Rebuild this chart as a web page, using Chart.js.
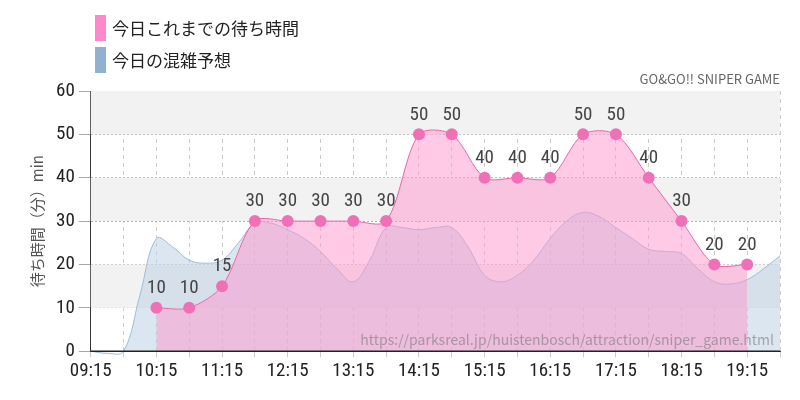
<!DOCTYPE html>
<html><head><meta charset="utf-8">
<script src="https://cdn.jsdelivr.net/npm/chart.js@4"></script>
<style>html,body{margin:0;background:#fff}#w{width:800px;height:400px}</style>
</head><body><div id="w"><canvas id="c"></canvas></div>
<script>
const pinkTimes=["10:15","10:45","11:15","11:45","12:15","12:45","13:15","13:45","14:15","14:45","15:15","15:45","16:15","16:45","17:15","17:45","18:15","18:45","19:15"];
const pinkValues=[10,10,15,30,30,30,30,30,50,50,40,40,40,50,50,40,30,20,20];
const blueTimes=["09:15","09:30","09:45","10:00","10:15","10:30","10:45","11:00","11:15","11:30","11:45","12:00","12:15","12:30","12:45","13:00","13:15","13:30","13:45","14:00","14:15","14:30","14:45","15:00","15:15","15:30","15:45","16:00","16:15","16:30","16:45","17:00","17:15","17:30","17:45","18:00","18:15","18:30","18:45","19:00","19:15","19:30","19:45"];
const blueValues=[0,-0.5,0,13,26,24,21,20.3,21,25,29.5,29.5,28,26,23,19,16,21,28.5,28.5,28,28.5,28.5,24,17.5,16,17.5,21,26,30,32,31,28.5,26,23.5,23,22.5,19,16,15.5,16.5,19,22];
const legendLabels=["今日これまでの待ち時間","今日の混雑予想"];
const subtitle="GO&GO!! SNIPER GAME";
const watermark="https://parksreal.jp/huistenbosch/attraction/sniper_game.html";
const yTitle="待ち時間（分）min";
const toMin=s=>{const[h,m]=s.split(":").map(Number);return h*60+m;};
const fmt=v=>{const h=Math.floor(v/60),m=v%60;return String(h).padStart(2,"0")+":"+String(m).padStart(2,"0");};
const NF='"Roboto Condensed","Liberation Sans Narrow","Roboto",sans-serif';
const JF='"Noto Sans CJK JP",sans-serif';
const deco={id:'deco',
 beforeDatasetsDraw(ch){const{ctx,chartArea:a,scales:{y}}=ch;ctx.save();ctx.fillStyle='#f2f2f2';
  [[50,60],[30,40],[10,20]].forEach(([lo,hi])=>{const t=y.getPixelForValue(hi),b=y.getPixelForValue(lo);ctx.fillRect(a.left,t,a.right-a.left,b-t);});ctx.restore();},
 afterDraw(ch){const{ctx,chartArea:a}=ch;const ds=ch.getDatasetMeta(0);ctx.save();
  ctx.font='19px '+NF;ctx.fillStyle='#444';ctx.textAlign='center';ctx.textBaseline='bottom';
  ds.data.forEach((p,i)=>ctx.fillText(pinkValues[i],p.x,p.y-10));
  ctx.font='14px '+JF;ctx.fillStyle='rgba(120,120,120,0.6)';ctx.textAlign='right';ctx.textBaseline='alphabetic';
  ctx.fillText(watermark,a.right-6,a.bottom-6);
  ctx.fillStyle='#666';ctx.font='13px '+JF;ctx.fillText(subtitle,a.right,84);
  ctx.strokeStyle='#222';ctx.lineWidth=1.5;ctx.beginPath();ctx.moveTo(a.left,a.bottom);ctx.lineTo(a.right,a.bottom);ctx.stroke();
  const cols=['#ff88cc','#8fb2d0'];
  legendLabels.forEach((t,i)=>{ctx.fillStyle=cols[i];ctx.fillRect(95,15+i*32,11,26);ctx.fillStyle='#222';ctx.font='17px '+JF;ctx.textAlign='left';ctx.textBaseline='middle';ctx.fillText(t,112,29+i*32);});
  ctx.restore();}};
new Chart(document.getElementById('c'),{type:'line',
 data:{datasets:[
  {data:pinkTimes.map((t,i)=>({x:toMin(t),y:pinkValues[i]})),borderColor:'#ee66aa',borderWidth:1,backgroundColor:'rgba(255,150,205,0.5)',fill:'origin',tension:0.3,pointRadius:6,pointBackgroundColor:'#f070b8',pointBorderWidth:0,order:0},
  {data:blueTimes.map((t,i)=>({x:toMin(t),y:blueValues[i]})),borderColor:'#9fbcd6',borderWidth:1,backgroundColor:'rgba(190,210,228,0.55)',fill:'origin',tension:0.4,pointRadius:0,order:1,clip:4}]},
 options:{responsive:true,maintainAspectRatio:false,animation:false,
  layout:{padding:{top:91,right:20,left:28,bottom:14}},
  plugins:{legend:{display:false},tooltip:{enabled:false}},
  scales:{
   x:{type:'linear',min:555,max:1185,ticks:{stepSize:30,autoSkip:false,maxRotation:0,font:{family:NF,size:19},color:'#222',callback:v=>((v-555)%60===0?fmt(v):'')},
    grid:{color:'#ccc',tickLength:6,drawTicks:true},border:{color:'#333',dash:[4,4]}},
   y:{min:0,max:60,ticks:{stepSize:10,font:{family:NF,size:19},color:'#222',padding:4},
    grid:{color:'#aaa',tickLength:12},border:{color:'#333',width:1,dash:[2,2]},
    title:{display:true,text:yTitle,font:{family:JF,size:15},color:'#555',padding:{top:0,bottom:6}}}}},
 plugins:[deco]});
</script></body></html>
